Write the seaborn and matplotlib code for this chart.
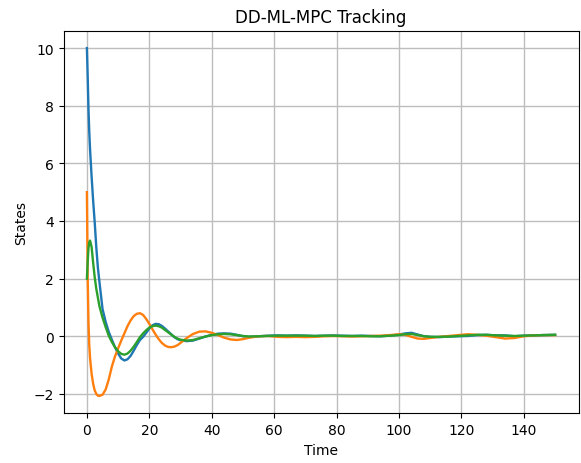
import matplotlib
matplotlib.use("Agg")
import matplotlib.pyplot as plt
import seaborn as sns
import pandas as pd

# Time samples
time = [0, 0.25, 0.5, 0.75, 1, 1.5, 2, 2.5, 3, 3.5, 4, 5, 6, 7, 8, 9, 10, 11, 12, 13,
        14, 15, 16, 17, 18, 19, 20, 21, 22, 23, 24, 25, 26, 27, 28, 29, 30, 32, 34, 36,
        38, 40, 42, 44, 46, 48, 50, 52, 55, 58, 61, 64, 67, 70, 73, 76, 79, 82, 85, 88,
        91, 94, 97, 100, 102, 104, 106, 108, 110, 113, 116, 119, 122, 125, 128, 131, 134,
        137, 140, 143, 146, 150]

state_1 = [10.0, 9.0, 7.9, 7.1, 6.5, 5.55, 4.7, 3.95, 3.1, 2.4, 1.9, 0.95, 0.5, 0.15, -0.12,
           -0.38, -0.6, -0.77, -0.84, -0.8, -0.68, -0.5, -0.3, -0.13, -0.02, 0.12, 0.27, 0.38,
           0.43, 0.42, 0.36, 0.27, 0.17, 0.07, -0.03, -0.1, -0.14, -0.17, -0.15, -0.08, -0.01,
           0.05, 0.09, 0.1, 0.09, 0.05, 0.0, -0.02, 0.0, 0.02, 0.03, 0.02, 0.03, 0.02, 0.01,
           0.02, 0.03, 0.02, 0.01, 0.02, 0.01, 0.0, 0.02, 0.06, 0.1, 0.12, 0.06, 0.0, -0.02,
           -0.03, -0.01, 0.0, 0.01, 0.04, 0.05, 0.03, 0.03, 0.0, 0.02, 0.03, 0.04, 0.05]

state_2 = [5.0, 2.0, 0.5, -0.3, -0.75, -1.3, -1.65, -1.88, -2.0, -2.06, -2.07, -2.03, -1.85,
           -1.5, -1.05, -0.7, -0.42, -0.15, 0.1, 0.35, 0.55, 0.7, 0.78, 0.8, 0.74, 0.6, 0.43,
           0.24, 0.06, -0.1, -0.23, -0.32, -0.37, -0.38, -0.36, -0.31, -0.23, -0.06, 0.08,
           0.16, 0.17, 0.12, 0.04, -0.05, -0.11, -0.13, -0.1, -0.05, 0.0, 0.01, -0.02, -0.03,
           -0.02, -0.03, -0.02, 0.0, 0.01, 0.0, -0.01, 0.0, 0.01, 0.02, 0.04, 0.07, 0.05,
           -0.02, -0.08, -0.09, -0.06, -0.02, 0.01, 0.04, 0.07, 0.05, 0.02, -0.03, -0.08,
           -0.06, 0.0, 0.03, 0.04, 0.04]

state_3 = [2.0, 2.6, 3.05, 3.27, 3.32, 3.1, 2.55, 2.05, 1.65, 1.35, 1.05, 0.65, 0.32, 0.02,
           -0.2, -0.38, -0.52, -0.61, -0.64, -0.6, -0.5, -0.36, -0.2, -0.03, 0.1, 0.21, 0.3,
           0.35, 0.37, 0.35, 0.3, 0.22, 0.14, 0.06, -0.02, -0.08, -0.12, -0.15, -0.13, -0.07,
           -0.01, 0.04, 0.07, 0.08, 0.07, 0.04, 0.01, -0.01, 0.0, 0.01, 0.02, 0.02, 0.02,
           0.02, 0.01, 0.02, 0.02, 0.01, 0.01, 0.01, 0.0, 0.0, 0.02, 0.04, 0.07, 0.08, 0.04,
           0.0, -0.02, -0.02, -0.01, 0.01, 0.03, 0.05, 0.05, 0.03, 0.02, 0.01, 0.02, 0.03,
           0.04, 0.05]

series_names = ["x1", "x2", "x3"]
colors = ["#1f77b4", "#ff7f0e", "#2ca02c"]

frames = []
for name, vals in zip(series_names, [state_1, state_2, state_3]):
    frames.append(pd.DataFrame({"Time": time, "States": vals, "state": name}))
df = pd.concat(frames, ignore_index=True)

fig = plt.figure(figsize=(5.81, 4.64), dpi=100)
ax = fig.add_axes([63.5 / 581, (464 - 414.3) / 464, (578.5 - 63.5) / 581, (414.3 - 31.7) / 464])

sns.lineplot(data=df, x="Time", y="States", hue="state", hue_order=series_names,
             palette=colors, legend=False, ax=ax, linewidth=1.7, estimator=None, sort=False)

ax.set_title("DD-ML-MPC Tracking")
ax.set_xlabel("Time")
ax.set_ylabel("States")
ax.grid(True, color="#bdbdbd", linewidth=1.0)

fig.savefig("out.png", dpi=100)
